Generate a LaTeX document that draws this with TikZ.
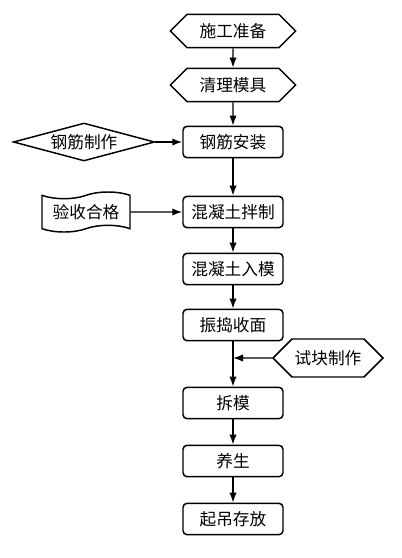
\documentclass[tikz,border=0pt]{standalone}
\usepackage{fontspec}
\newfontfamily\cjk{Noto Sans CJK SC}
\usetikzlibrary{positioning,arrows.meta,shapes.geometric,shapes.symbols}

\begin{document}
\begin{tikzpicture}[x=0.75pt,y=-0.75pt]
\tikzset{
  base/.style={draw,line width=1.1pt,font=\cjk\fontsize{12.5}{14}\selectfont,inner sep=2pt},
  stepbox/.style={base,rounded corners=3pt,minimum width=75pt,minimum height=23.5pt},
  prep/.style={base,signal,signal to=west and east,minimum width=94pt,minimum height=25pt},
  make/.style={base,diamond,aspect=3.7,minimum width=106pt,minimum height=28.5pt,inner sep=0pt},
  check/.style={base,tape,minimum width=66pt,minimum height=30pt},
  flow/.style={line width=1.1pt,-{Latex[length=7.5pt,width=5.5pt]}}
}
\useasboundingbox (0,0) rectangle (402,558);

% main chain
\node[prep] (zb) at (233,31) {施工准备};
\node[prep] (ql) at (233,85) {清理模具};
\node[stepbox] (gj) at (233,142) {钢筋安装};
\node[stepbox] (bz) at (233,212) {混凝土拌制};
\node[stepbox] (rm) at (233,269) {混凝土入模};
\node[stepbox] (zd) at (233,325) {振捣收面};
\node[stepbox] (cm) at (233,403) {拆模};
\node[stepbox] (ys) at (233,461) {养生};
\node[stepbox] (cd) at (233,519) {起吊存放};

% side inputs
\node[make] (gz) at (84,142) {钢筋制作};
\node[check] (ys2) at (86,212) {验收合格};
\node[prep,minimum width=76pt,minimum height=28.5pt] (sk) at (328,358) {试块制作};
\coordinate (j) at (zd.south |- sk.west);

\draw[flow] (zb) -- (ql);
\draw[flow] (ql) -- (gj);
\draw[flow] (gj) -- (bz);
\draw[flow] (bz) -- (rm);
\draw[flow] (rm) -- (zd);
\draw[flow] (zd) -- (cm);
\draw[flow] (cm) -- (ys);
\draw[flow] (ys) -- (cd);
\draw[flow] (gz) -- (gj);
\draw[flow] (ys2) -- (bz);
\draw[flow] (sk) -- (j);
\end{tikzpicture}
\end{document}
